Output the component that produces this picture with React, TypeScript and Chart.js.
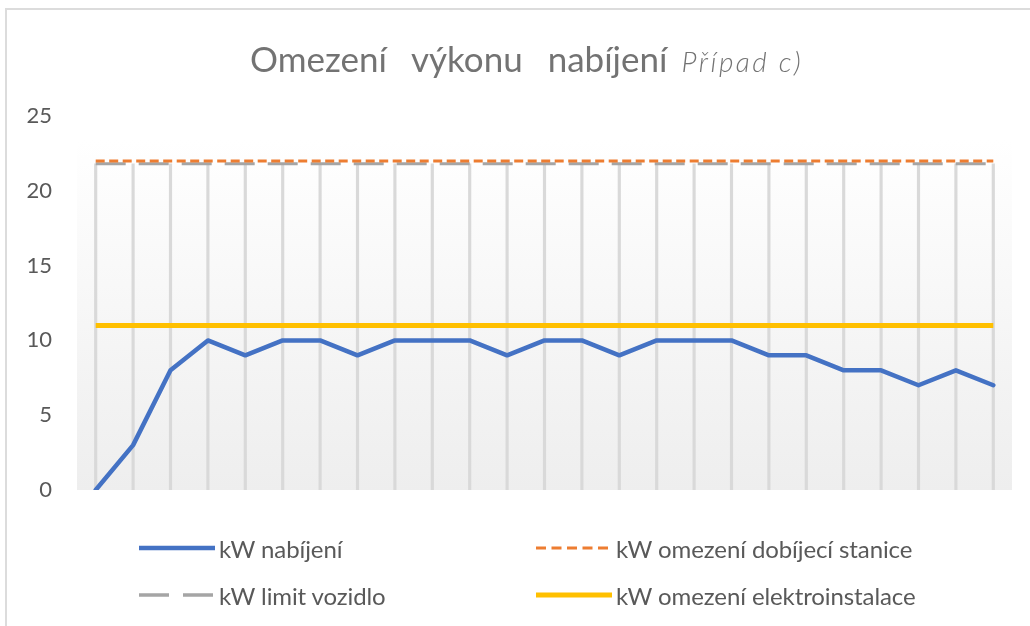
import React, { useEffect, useRef } from "react";
import { Chart, registerables } from "chart.js";

Chart.register(...registerables);

const categories = ["1", "2", "3", "4", "5", "6", "7", "8", "9", "10", "11", "12", "13", "14", "15", "16", "17", "18", "19", "20", "21", "22", "23", "24", "25"];
const chargingKW = [0, 3, 8, 10, 9, 10, 10, 9, 10, 10, 10, 9, 10, 10, 9, 10, 10, 10, 9, 9, 8, 8, 7, 8, 7];
const stationLimitKW = [22, 22, 22, 22, 22, 22, 22, 22, 22, 22, 22, 22, 22, 22, 22, 22, 22, 22, 22, 22, 22, 22, 22, 22, 22];
const vehicleLimitKW = [21.8, 21.8, 21.8, 21.8, 21.8, 21.8, 21.8, 21.8, 21.8, 21.8, 21.8, 21.8, 21.8, 21.8, 21.8, 21.8, 21.8, 21.8, 21.8, 21.8, 21.8, 21.8, 21.8, 21.8, 21.8];
const installationLimitKW = [11, 11, 11, 11, 11, 11, 11, 11, 11, 11, 11, 11, 11, 11, 11, 11, 11, 11, 11, 11, 11, 11, 11, 11, 11];
const yTicks = [0, 5, 10, 15, 20, 25];

const seriesNames = ["kW nabíjení", "kW omezení dobíjecí stanice", "kW limit vozidlo", "kW omezení elektroinstalace"];
const COLORS = { blue: "#4472c4", orange: "#ed7d31", gray: "#a5a5a5", yellow: "#ffc000" };

const FONT = "Lato, 'Open Sans', sans-serif";

const plotBg = {
  id: "plotBg",
  beforeDatasetsDraw(chart: any) {
    const { ctx, chartArea: a, scales } = chart;
    const top = scales.y.getPixelForValue(23.4);
    const g = ctx.createLinearGradient(0, top, 0, a.bottom);
    g.addColorStop(0, "#ffffff");
    g.addColorStop(1, "#eeeeee");
    ctx.save();
    ctx.fillStyle = g;
    ctx.fillRect(a.left, top, a.right - a.left, a.bottom - top);
    ctx.restore();
  },
};

function LegendItem(props: { x: number; y: number; color: string; width: number; dash?: string; label: string }) {
  return (
    <div style={{ position: "absolute", left: props.x, top: props.y - 16, height: 32, display: "flex", alignItems: "center", whiteSpace: "nowrap" }}>
      <svg width={78} height={10} style={{ display: "block" }}>
        <line x1={0} y1={5} x2={76} y2={5} stroke={props.color} strokeWidth={props.width} strokeDasharray={props.dash} />
      </svg>
      <span style={{ marginLeft: 2, fontFamily: FONT, fontSize: 24, color: "#595959", letterSpacing: -0.1 }}>{props.label}</span>
    </div>
  );
}

export default function App() {
  const ref = useRef<HTMLCanvasElement | null>(null);

  useEffect(() => {
    if (!ref.current) return;
    const dropTops = categories.map((_, i) => Math.max(chargingKW[i], vehicleLimitKW[i]));
    const chart = new Chart(ref.current, {
      type: "line",
      data: {
        labels: categories,
        datasets: [
          { label: seriesNames[0], data: chargingKW, borderColor: COLORS.blue, backgroundColor: COLORS.blue, borderWidth: 4.5, pointRadius: 0, order: 1, borderJoinStyle: "round", borderCapStyle: "round" } as any,
          { label: seriesNames[1], data: stationLimitKW, borderColor: COLORS.orange, borderWidth: 3, borderDash: [9, 4.5], pointRadius: 0, order: 1 } as any,
          { label: seriesNames[2], data: vehicleLimitKW, borderColor: COLORS.gray, borderWidth: 3, borderDash: [30, 13], pointRadius: 0, order: 1 } as any,
          { label: seriesNames[3], data: installationLimitKW, borderColor: COLORS.yellow, borderWidth: 5, pointRadius: 0, order: 1 } as any,
          { type: "bar", label: "drop", data: dropTops, backgroundColor: "#d9d9d9", barThickness: 2.5, order: 10 } as any,
        ],
      },
      options: {
        animation: false,
        responsive: false,
        maintainAspectRatio: false,
        layout: { padding: { top: 116, bottom: 136, left: 0, right: 18 } },
        plugins: { legend: { display: false }, title: { display: false }, tooltip: { enabled: false } },
        scales: {
          x: { type: "category", display: false, offset: true, grid: { display: false } },
          y: {
            min: 0,
            max: 25,
            grid: { display: false, drawTicks: false },
            border: { display: false },
            afterFit(scale: any) { scale.width = 77; },
            afterBuildTicks(scale: any) { scale.ticks = yTicks.map((v) => ({ value: v })); },
            ticks: { padding: 25, color: "#595959", font: { family: FONT, size: 22 } },
          },
        },
      },
      plugins: [plotBg],
    });
    return () => chart.destroy();
  }, []);

  return (
    <div style={{ position: "absolute", left: 0, top: 0, width: 1030, height: 626, overflow: "hidden", background: "#fff" }}>
      <div style={{ position: "absolute", left: 5, top: 8, width: 1100, height: 700, borderLeft: "2px solid #dcdcdc", borderTop: "2px solid #dcdcdc" }} />
      <canvas ref={ref} width={1030} height={626} style={{ position: "absolute", left: 0, top: 0 }} />
      <div style={{ position: "absolute", left: 250, top: 37, whiteSpace: "nowrap", color: "#737373", fontFamily: FONT }}>
        <span style={{ fontSize: 35, fontWeight: 400, wordSpacing: 16 }}>Omezení výkonu nabíjení</span>
        <span style={{ fontSize: 28, fontWeight: 300, fontStyle: "italic", marginLeft: 14, letterSpacing: 2.5 }}>Případ c)</span>
      </div>
      <LegendItem x={139} y={548} color={COLORS.blue} width={4.5} label={seriesNames[0]} />
      <LegendItem x={536} y={548} color={COLORS.orange} width={3} dash="10 5.5" label={seriesNames[1]} />
      <LegendItem x={139} y={595} color={COLORS.gray} width={3.5} dash="30 14" label={seriesNames[2]} />
      <LegendItem x={536} y={595} color={COLORS.yellow} width={5} label={seriesNames[3]} />
    </div>
  );
}
